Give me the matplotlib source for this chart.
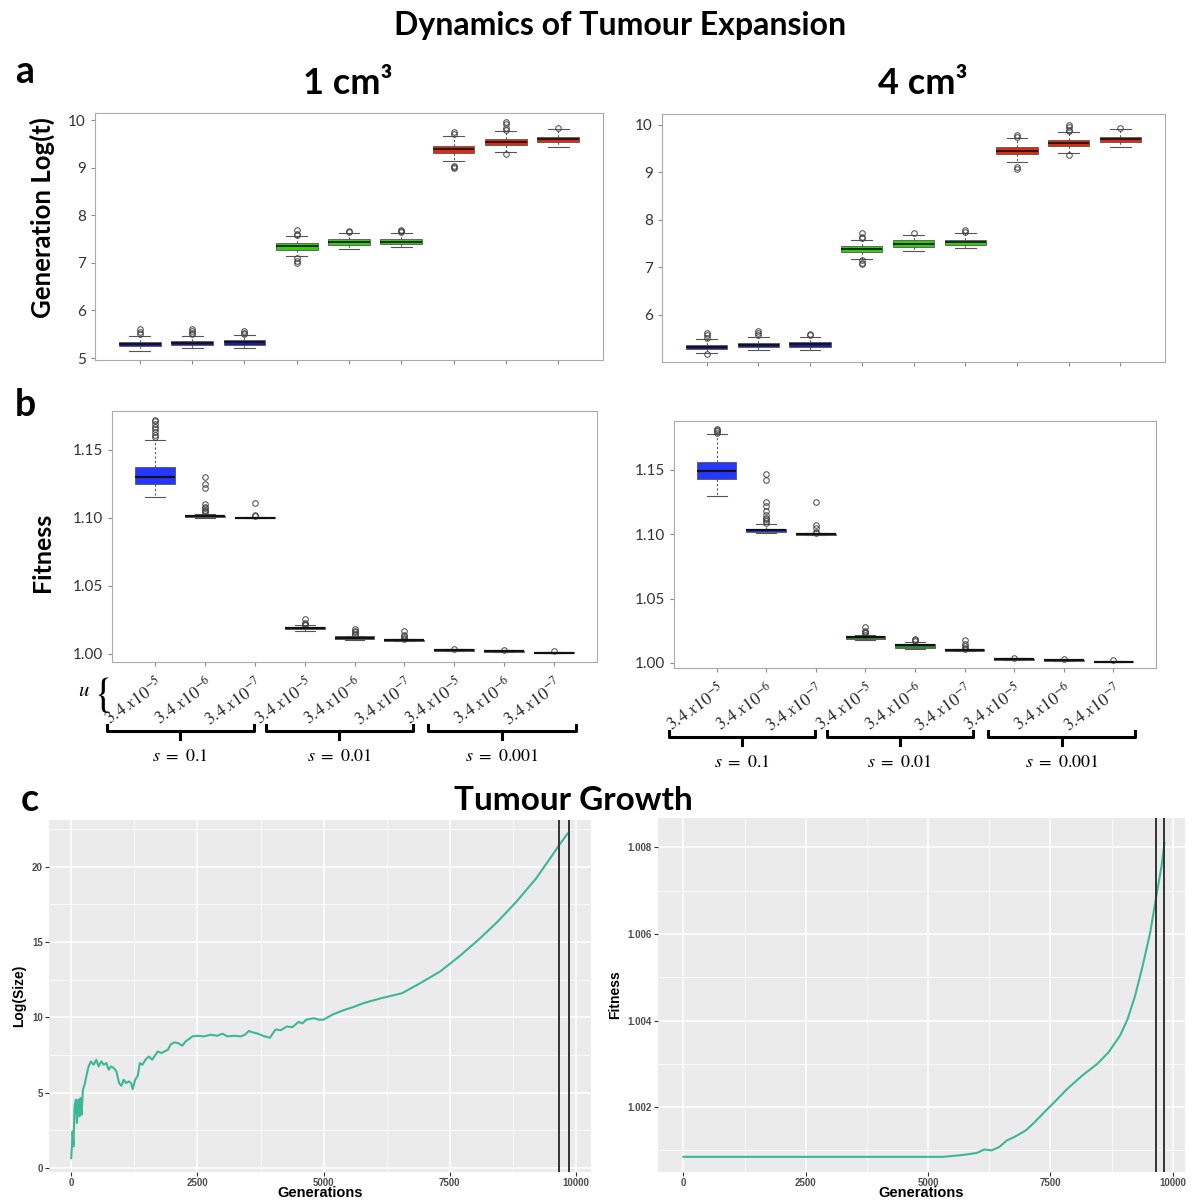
import matplotlib
matplotlib.use("Agg")
import matplotlib.pyplot as plt
import matplotlib.transforms as mtransforms

plt.rcParams['mathtext.fontset'] = 'stix'
plt.rcParams['font.family'] = ['Lato', 'DejaVu Sans']

# ---- panel a : generation log(t), 9 groups (s = 0.1, 0.01, 0.001 x u) ----
a1_med = [5.30, 5.32, 5.33, 7.35, 7.45, 7.45, 9.40, 9.55, 9.60]
a1_q1 = [5.25, 5.28, 5.28, 7.28, 7.38, 7.40, 9.31, 9.49, 9.54]
a1_q3 = [5.34, 5.36, 5.37, 7.41, 7.50, 7.50, 9.47, 9.61, 9.66]
a1_lo = [5.14, 5.21, 5.21, 7.14, 7.29, 7.33, 9.14, 9.33, 9.43]
a1_hi = [5.46, 5.47, 5.48, 7.56, 7.63, 7.63, 9.68, 9.77, 9.82]
a1_fl = [[5.50, 5.55, 5.60], [5.50, 5.52, 5.57, 5.60], [5.50, 5.53, 5.56],
         [7.58, 7.60, 7.70, 7.10, 7.05, 7.00], [7.66, 7.67], [7.66, 7.68, 7.70],
         [9.72, 9.75, 9.05, 8.99, 9.02], [9.80, 9.83, 9.92, 9.96, 9.30], [9.85]]

a4_med = [5.33, 5.37, 5.38, 7.39, 7.50, 7.53, 9.45, 9.62, 9.70]
a4_q1 = [5.28, 5.32, 5.33, 7.32, 7.44, 7.47, 9.39, 9.56, 9.65]
a4_q3 = [5.37, 5.42, 5.43, 7.45, 7.57, 7.58, 9.53, 9.68, 9.75]
a4_lo = [5.20, 5.26, 5.27, 7.18, 7.34, 7.41, 9.21, 9.40, 9.54]
a4_hi = [5.49, 5.54, 5.54, 7.58, 7.69, 7.73, 9.72, 9.85, 9.91]
a4_fl = [[5.52, 5.58, 5.63, 5.18], [5.57, 5.62, 5.66], [5.57, 5.60],
         [7.62, 7.65, 7.72, 7.15, 7.10, 7.07], [7.72], [7.75, 7.78],
         [9.75, 9.78, 9.12, 9.07], [9.87, 9.90, 9.96, 10.0, 9.36], [9.93]]

# ---- panel b : fitness ----
b1_med = [1.130, 1.101, 1.100, 1.019, 1.012, 1.010, 1.003, 1.002, 1.001]
b1_q1 = [1.125, 1.1005, 1.0995, 1.018, 1.011, 1.0095, 1.0025, 1.0015, 1.0005]
b1_q3 = [1.137, 1.1015, 1.1003, 1.020, 1.013, 1.0105, 1.0033, 1.0023, 1.0013]
b1_lo = [1.115, 1.100, 1.0995, 1.017, 1.0105, 1.0093, 1.0024, 1.0014, 1.0004]
b1_hi = [1.157, 1.103, 1.1008, 1.021, 1.0135, 1.011, 1.0036, 1.0026, 1.0016]
b1_fl = [[1.159, 1.161, 1.163, 1.165, 1.167, 1.169, 1.171, 1.172],
         [1.104, 1.105, 1.106, 1.107, 1.108, 1.110, 1.122, 1.125, 1.130],
         [1.101, 1.102, 1.111],
         [1.021, 1.022, 1.023, 1.026],
         [1.014, 1.015, 1.016, 1.017, 1.018],
         [1.011, 1.012, 1.013, 1.014, 1.017],
         [1.004], [1.003], [1.002]]

b4_med = [1.149, 1.103, 1.100, 1.020, 1.014, 1.010, 1.003, 1.002, 1.001]
b4_q1 = [1.143, 1.102, 1.0995, 1.019, 1.012, 1.0095, 1.0025, 1.0015, 1.0005]
b4_q3 = [1.156, 1.104, 1.1003, 1.021, 1.015, 1.0105, 1.0033, 1.0023, 1.0013]
b4_lo = [1.130, 1.101, 1.0995, 1.018, 1.011, 1.0093, 1.0024, 1.0014, 1.0004]
b4_hi = [1.178, 1.108, 1.1008, 1.0215, 1.016, 1.011, 1.0036, 1.0026, 1.0016]
b4_fl = [[1.179, 1.180, 1.181, 1.182],
         [1.109, 1.110, 1.112, 1.113, 1.115, 1.118, 1.122, 1.125, 1.142, 1.147],
         [1.101, 1.102, 1.105, 1.107, 1.125],
         [1.022, 1.023, 1.024, 1.025, 1.028],
         [1.017, 1.018, 1.019],
         [1.011, 1.012, 1.013, 1.015, 1.018],
         [1.004], [1.003], [1.002]]

a_colors = ['#1c1ca8'] * 3 + ['#33cc11'] * 3 + ['#dd2a10'] * 3
b_colors = ['#2438ff', '#2438ff', '#2438ff', '#2e8b2e', '#2e8b2e', '#2e8b2e', '#888888', '#888888', '#888888']
u_labels = [r'$\mathit{3.4\ x10^{-5}}$', r'$\mathit{3.4\ x10^{-6}}$', r'$\mathit{3.4\ x10^{-7}}$'] * 3
s_labels = [r'$s\ =\ 0.1$', r'$s\ =\ 0.01$', r'$s\ =\ 0.001$']
brace_start = [0.03, 3.22, 6.48]

# ---- panel c : tumour growth ----
size_gen = [0, 13, 27, 46, 66, 93, 113, 139, 166, 186, 205, 232, 265, 298, 345, 391, 444, 497,
            543, 596, 643, 696, 742, 789, 842, 895, 948, 994, 1040, 1087, 1140, 1186, 1219,
            1266, 1319, 1359, 1412, 1471, 1538, 1604, 1670, 1716, 1783, 1849, 1915, 1968,
            2034, 2114, 2200, 2266, 2333, 2399, 2498, 2631, 2763, 2896, 2995, 3095, 3227,
            3360, 3440, 3518, 3600, 3669, 3750, 3821, 3935, 4049, 4150, 4276, 4380, 4503,
            4580, 4655, 4807, 4900, 4996, 5186, 5413, 5600, 5792, 6171, 6550, 6929, 7309,
            7688, 8067, 8446, 8825, 9204, 9507, 9659, 9833]
size_val = [0.66, 1.44, 2.43, 1.44, 4.09, 4.54, 2.99, 4.54, 3.43, 4.65, 3.54, 5.20, 5.53, 6.08,
            6.75, 7.08, 6.86, 7.19, 6.75, 7.08, 6.86, 6.97, 6.53, 6.75, 6.64, 6.42, 5.64, 5.46,
            5.86, 5.64, 5.75, 5.64, 5.24, 5.86, 6.13, 6.97, 6.86, 7.19, 7.41, 7.19, 7.52, 7.74,
            7.63, 7.74, 7.85, 8.19, 8.34, 8.30, 8.12, 8.41, 8.56, 8.74, 8.78, 8.74, 8.85, 8.78,
            8.92, 8.74, 8.78, 8.74, 8.85, 9.10, 9.00, 8.95, 8.85, 8.75, 8.65, 9.20, 9.15, 9.40,
            9.35, 9.70, 9.60, 9.85, 9.95, 9.85, 9.85, 10.20, 10.50, 10.70, 10.95, 11.30, 11.60,
            12.30, 13.05, 14.05, 15.15, 16.35, 17.70, 19.20, 20.65, 21.40, 22.20]

fit_gen = [0, 5300, 5686, 5994, 6148, 6302, 6456, 6610, 6764, 6995, 7149, 7381, 7612, 7843,
           8151, 8459, 8690, 8921, 9076, 9230, 9384, 9538, 9653, 9769, 9831]
fit_val = [1.00085, 1.00085, 1.00089, 1.00094, 1.00102, 1.00100, 1.00108, 1.00123, 1.00131,
           1.00146, 1.00162, 1.00189, 1.00215, 1.00242, 1.00273, 1.00300, 1.00327, 1.00365,
           1.00403, 1.00457, 1.00526, 1.00603, 1.00680, 1.00756, 1.00810]
size_marks = [9663, 9860]
fit_marks = [9650, 9830]

W, H = 1192, 1200
fig = plt.figure(figsize=(W / 100, H / 100), dpi=100)


def px_axes(l, t, r, b):
    return fig.add_axes([l / W, 1 - b / H, (r - l) / W, (b - t) / H])


def boxes(ax, med, q1, q3, lo, hi, fl, colors, mlw):
    stats = [dict(med=m, q1=a, q3=b, whislo=l, whishi=h, fliers=f)
             for m, a, b, l, h, f in zip(med, q1, q3, lo, hi, fl)]
    bp = ax.bxp(stats, positions=range(1, 10), widths=0.8, patch_artist=True,
                medianprops=dict(color='#111111', lw=mlw),
                whiskerprops=dict(ls=(0, (2, 2)), lw=0.8, color='#555555'),
                capprops=dict(color='#555555', lw=0.8),
                flierprops=dict(marker='o', mfc='none', mec='#444444', ms=4, mew=0.7))
    for p, c in zip(bp['boxes'], colors):
        p.set_facecolor(c)
        p.set_edgecolor('#555555')
        p.set_linewidth(0.6)
    ax.set_xlim(0.14, 9.86)
    for s in ax.spines.values():
        s.set_color('#aaaaaa')
    ax.tick_params(colors='#888888', labelcolor='#333333', labelsize=11, length=3)


# panel a
ax = px_axes(95, 113, 603, 360)
boxes(ax, a1_med, a1_q1, a1_q3, a1_lo, a1_hi, a1_fl, a_colors, 1.2)
ax.set_ylim(4.958, 10.156)
ax.set_yticks([5, 6, 7, 8, 9, 10])
ax.set_xticks(range(1, 10), [''] * 9)

ax = px_axes(662, 114, 1165, 362)
boxes(ax, a4_med, a4_q1, a4_q3, a4_lo, a4_hi, a4_fl, a_colors, 1.2)
ax.set_ylim(5.01, 10.23)
ax.set_yticks([6, 7, 8, 9, 10])
ax.set_xticks(range(1, 10), [''] * 9)


def braces(ax, y):
    tr = mtransforms.blended_transform_factory(ax.transData, ax.transAxes)
    for g in range(3):
        x0 = brace_start[g]
        x1 = x0 + 2.95
        xm = (x0 + x1) / 2
        ax.plot([x0, x0, x1, x1], [y + 0.025, y, y, y + 0.025], transform=tr,
                color='black', lw=2.2, clip_on=False, solid_joinstyle='round')
        ax.plot([xm, xm], [y, y - 0.03], transform=tr, color='black', lw=2.2, clip_on=False)
        ax.text(xm, y - 0.1, s_labels[g], transform=tr, ha='center', va='center', fontsize=13)


# panel b
ax = px_axes(112, 411, 597, 662)
boxes(ax, b1_med, b1_q1, b1_q3, b1_lo, b1_hi, b1_fl, b_colors, 1.6)
ax.set_ylim(0.9941, 1.1784)
ax.set_yticks([1.00, 1.05, 1.10, 1.15], ['1.00', '1.05', '1.10', '1.15'])
ax.set_xticks(range(1, 10), u_labels, rotation=35, ha='right', va='top',
              rotation_mode='anchor', fontsize=12.5)
ax.tick_params(axis='x', labelcolor='#222222', pad=5)
braces(ax, -0.275)

ax = px_axes(674, 421, 1156, 668)
boxes(ax, b4_med, b4_q1, b4_q3, b4_lo, b4_hi, b4_fl, b_colors, 1.6)
ax.set_ylim(0.9961, 1.188)
ax.set_yticks([1.00, 1.05, 1.10, 1.15], ['1.00', '1.05', '1.10', '1.15'])
ax.set_xticks(range(1, 10), u_labels, rotation=35, ha='right', va='top',
              rotation_mode='anchor', fontsize=12.5)
ax.tick_params(axis='x', labelcolor='#222222', pad=5)
braces(ax, -0.28)


def gg(ax, xlim, ylim, yticks, yminor, ylabels):
    ax.set_facecolor('#EBEBEB')
    for s in ax.spines.values():
        s.set_visible(False)
    ax.set_xlim(*xlim)
    ax.set_ylim(*ylim)
    ax.set_xticks([0, 2500, 5000, 7500, 10000], ['0', '2500', '5000', '7500', '10000'])
    ax.set_xticks([1250, 3750, 6250, 8750], minor=True)
    ax.set_yticks(yticks, ylabels)
    ax.set_yticks(yminor, minor=True)
    ax.grid(True, which='major', color='white', lw=1.1)
    ax.grid(True, which='minor', color='white', lw=0.5)
    ax.set_axisbelow(True)
    ax.tick_params(which='major', length=3, color='#333333', labelsize=7,
                   labelcolor='#4D4D4D', pad=1.5)
    ax.tick_params(which='minor', length=0)
    for t in ax.get_xticklabels() + ax.get_yticklabels():
        t.set_fontweight('bold')
        t.set_family('Liberation Sans')
    ax.set_xlabel('Generations', fontsize=10.5, fontweight='bold', family='Liberation Sans',
                  labelpad=-1.5)


# panel c
ax = px_axes(49, 820, 591, 1172)
gg(ax, (-440, 10297), (-0.26, 23.1), [0, 5, 10, 15, 20], [2.5, 7.5, 12.5, 17.5, 22.5],
   ['0', '5', '10', '15', '20'])
ax.plot(size_gen, size_val, color='#3DB897', lw=1.5)
for g in size_marks:
    ax.axvline(g, color='#333333', lw=1.4)
ax.set_ylabel('Log(Size)', fontsize=10, fontweight='bold', family='Liberation Sans', labelpad=4)

ax = px_axes(658, 818, 1185, 1172)
gg(ax, (-520, 10250), (1.0005, 1.00868), [1.002, 1.004, 1.006, 1.008],
   [1.001, 1.003, 1.005, 1.007], ['1.002', '1.004', '1.006', '1.008'])
ax.plot(fit_gen, fit_val, color='#3DB897', lw=1.5)
for g in fit_marks:
    ax.axvline(g, color='#333333', lw=1.4)
ax.set_ylabel('Fitness', fontsize=10, fontweight='bold', family='Liberation Sans', labelpad=4)

# titles and panel letters
fig.text(620 / W, 1 - 25 / H, 'Dynamics of Tumour Expansion', ha='center', va='center',
         fontsize=23, fontweight='bold')
fig.text(573 / W, 1 - 800 / H, 'Tumour Growth', ha='center', va='center', fontsize=24, fontweight='bold')
fig.text(348 / W, 1 - 83 / H, '1 cm³', ha='center', va='center', fontsize=26, fontweight='bold')
fig.text(923 / W, 1 - 83 / H, '4 cm³', ha='center', va='center', fontsize=26, fontweight='bold')
fig.text(25 / W, 1 - 72 / H, 'a', ha='center', va='center', fontsize=27, fontweight='bold')
fig.text(25 / W, 1 - 405 / H, 'b', ha='center', va='center', fontsize=27, fontweight='bold')
fig.text(30 / W, 1 - 800 / H, 'c', ha='center', va='center', fontsize=27, fontweight='bold')
fig.text(42 / W, 1 - 218 / H, 'Generation Log(t)', ha='center', va='center', rotation=90,
         fontsize=18.5, fontweight='bold')
fig.text(42 / W, 1 - 552 / H, 'Fitness', ha='center', va='center', rotation=90,
         fontsize=18, fontweight='bold')
fig.text(84 / W, 1 - 690 / H, r'$u$', ha='center', va='center', fontsize=15)
fig.text(101 / W, 1 - 695 / H, r'$\{$', ha='center', va='center', fontsize=30)

fig.savefig('out.png', dpi=100)
